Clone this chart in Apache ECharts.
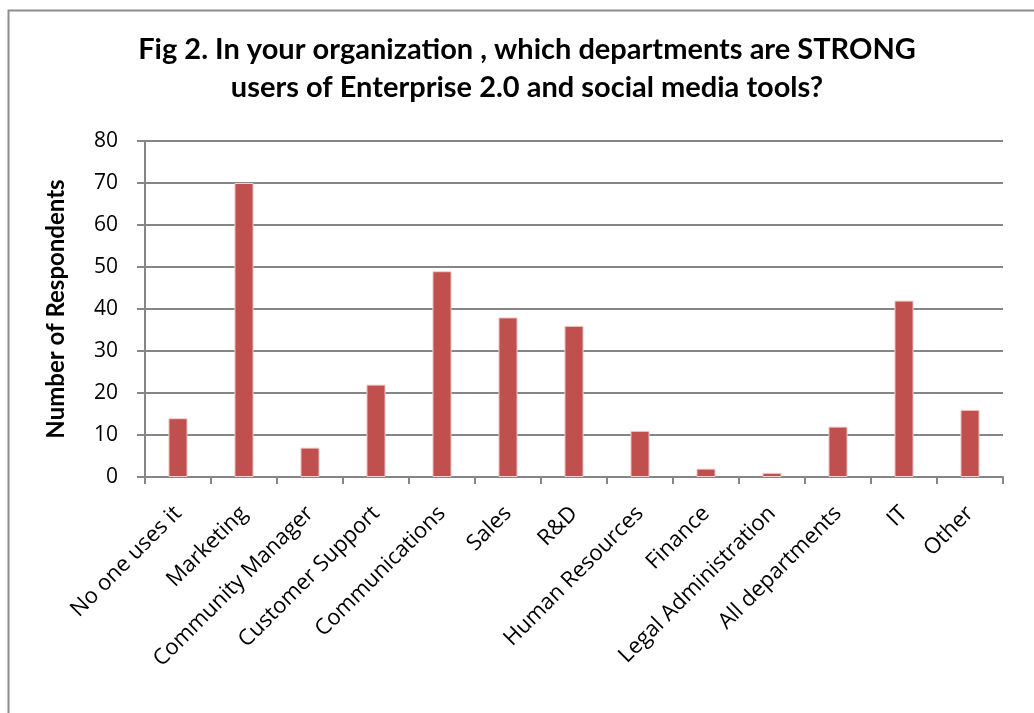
<!DOCTYPE html>
<html>
<head>
<meta charset="utf-8">
<script src="https://cdn.jsdelivr.net/npm/echarts@6/dist/echarts.min.js"></script>
<style>html,body{margin:0;padding:0;background:#fff;}#c{width:1034px;height:713px;}</style>
</head>
<body>
<div id="c"></div>
<script>
const titleLines = ["Fig 2. In your organization , which departments are STRONG", "users of Enterprise 2.0 and social media tools?"];
const categories = ["No one uses it", "Marketing", "Community Manager", "Customer Support", "Communications", "Sales", "R&D", "Human Resources", "Finance", "Legal Administration", "All departments", "IT", "Other"];
const values = [14, 70, 7, 22, 49, 38, 36, 11, 2, 1, 12, 42, 16];
const yTicks = [0, 10, 20, 30, 40, 50, 60, 70, 80];
const yName = "Number of Respondents";

const chart = echarts.init(document.getElementById('c'), null, {renderer: 'canvas'});
const FONT = 'Lato';
const LFONT = '"Open Sans", sans-serif';
const titleStyle = {fontFamily: FONT, fontWeight: 'bold', fontSize: 29, fill: '#000', align: 'center', verticalAlign: 'middle'};
chart.setOption({
  animation: false,
  backgroundColor: '#fff',
  graphic: [{
    type: 'rect', left: 6, top: 8, silent: true,
    shape: {width: 1040, height: 720},
    style: {fill: 'none', stroke: '#8c8c8c', lineWidth: 2}
  }, {
    type: 'text', x: 527, y: 50, silent: true,
    style: Object.assign({text: titleLines[0]}, titleStyle)
  }, {
    type: 'text', x: 527, y: 88, silent: true,
    style: Object.assign({text: titleLines[1]}, titleStyle)
  }],
  grid: {left: 145, right: 31, top: 141, bottom: 236, containLabel: false},
  xAxis: {
    type: 'category',
    data: categories,
    axisLine: {lineStyle: {color: '#868686', width: 2}},
    axisTick: {show: true, alignWithLabel: false, length: 7, lineStyle: {color: '#868686', width: 2}},
    axisLabel: {rotate: 45, interval: 0, fontFamily: LFONT, fontSize: 22, color: '#000', margin: 33}
  },
  yAxis: {
    type: 'value',
    min: yTicks[0], max: yTicks[yTicks.length - 1], interval: 10,
    name: yName, nameLocation: 'middle', nameGap: 77, nameRotate: 90,
    nameTextStyle: {fontFamily: FONT, fontWeight: 'bold', fontSize: 24, color: '#000'},
    axisLine: {show: true, lineStyle: {color: '#868686', width: 2}},
    axisTick: {show: true, length: 8, lineStyle: {color: '#868686', width: 2}},
    axisLabel: {fontFamily: LFONT, fontSize: 21, color: '#000', margin: 27},
    splitLine: {show: true, lineStyle: {color: '#868686', width: 2}}
  },
  series: [{
    type: 'bar',
    data: values,
    barWidth: '29%',
    itemStyle: {color: '#C0504D', borderColor: '#f2d0cf', borderWidth: 1}
  }]
});
</script>
</body>
</html>
